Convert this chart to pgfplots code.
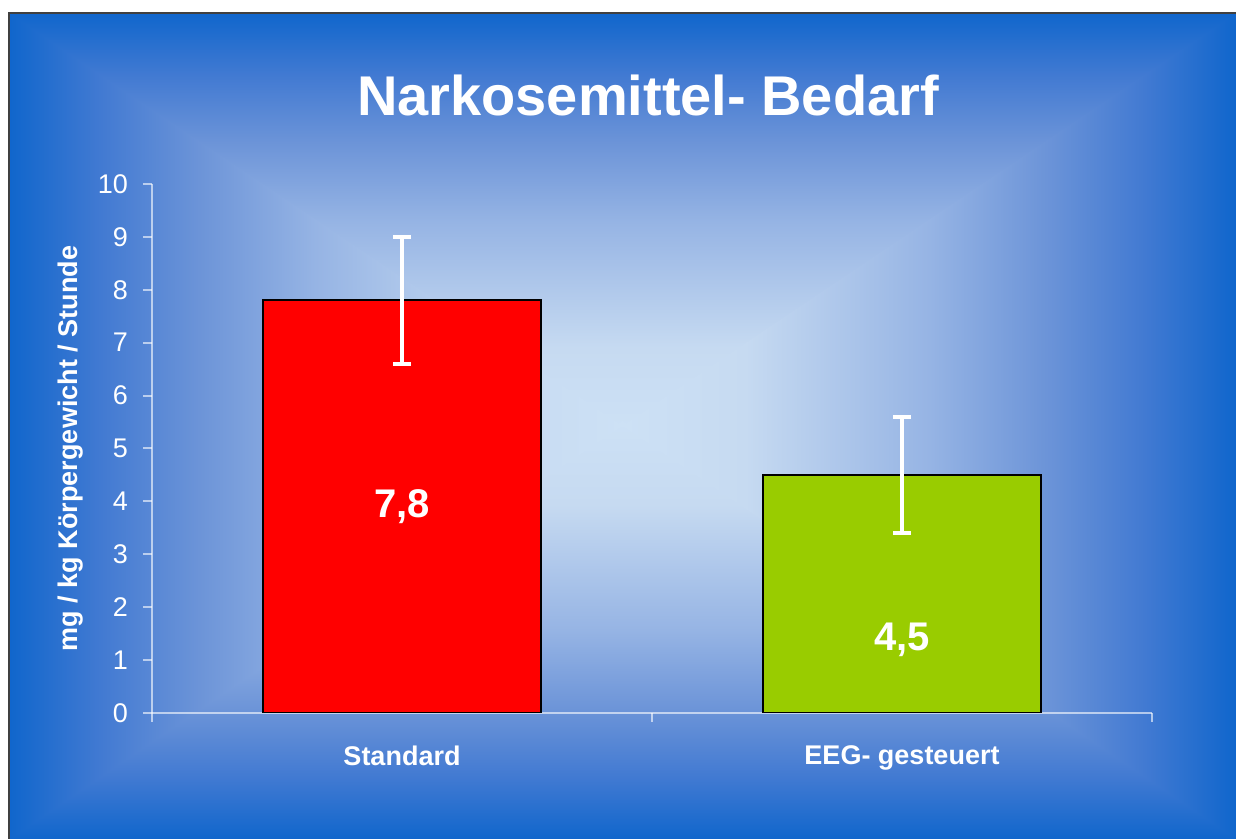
\documentclass[border=0pt]{standalone}
\usepackage{pgfplots}
\pgfplotsset{compat=1.18}
\usepackage{fontspec}
\setmainfont{Liberation Sans}
\definecolor{cE}{RGB}{16,102,204}
\definecolor{c15}{RGB}{66,122,210}
\definecolor{c31}{RGB}{108,148,216}
\definecolor{c50}{RGB}{150,180,228}
\definecolor{c80}{RGB}{198,218,241}
\definecolor{cC}{RGB}{205,225,245}
\definecolor{barred}{RGB}{255,0,0}
\definecolor{bargreen}{RGB}{153,204,0}
\pgfdeclareverticalshading{bgup}{100bp}{color(0bp)=(cC); color(25bp)=(cC); color(35bp)=(c80); color(50bp)=(c50); color(59.5bp)=(c31); color(67.5bp)=(c15); color(75bp)=(cE); color(100bp)=(cE)}
\begin{document}
\begin{tikzpicture}
\useasboundingbox (0,0) rectangle (618pt,419.5pt);
\fill[white] (0,0) rectangle (618pt,419.5pt);
\coordinate (C) at (311.25pt,206.5pt);
\shade[shading=bgup] (4.5pt,413pt) -- (618pt,413pt) -- (618pt,410.5pt) -- (311.25pt,204pt) -- (4.5pt,410.5pt) -- cycle;
\shade[shading=bgup, shading angle=180] (4.5pt,0pt) -- (618pt,0pt) -- (618pt,2.5pt) -- (311.25pt,209pt) -- (4.5pt,2.5pt) -- cycle;
\shade[shading=bgup, shading angle=90] (4.5pt,0pt) -- (4.5pt,413pt) -- (C) -- cycle;
\shade[shading=bgup, shading angle=-90] (618pt,0pt) -- (618pt,413pt) -- (C) -- cycle;
\draw[line width=0.8pt, black!75] (4.5pt,0pt) -- (4.5pt,413pt) -- (618pt,413pt);
\begin{axis}[
  at={(76pt,63pt)}, anchor=south west,
  width=500pt, height=264.5pt, scale only axis,
  xmin=-0.5, xmax=1.5, ymin=0, ymax=10,
  axis x line*=bottom, axis y line*=left,
  axis line style={white, opacity=0.6, line width=1pt},
  xtick={-0.5,0.5,1.5}, xticklabels={},
  extra x ticks={0,1}, extra x tick labels={Standard,EEG- gesteuert},
  extra x tick style={major tick length=0pt, xticklabel style={yshift=-13pt}},
  ytick={0,1,...,10},
  tick align=outside,
  major tick length=4.5pt,
  every tick/.style={white, opacity=0.6, line width=1pt},
  /pgf/number format/assume math mode=true,
  yticklabel style={white, font=\fontsize{13.5}{16}\selectfont, xshift=-4pt},
  xticklabel style={white, font=\bfseries\fontsize{13.5}{16}\selectfont},
  title={Narkosemittel- Bedarf},
  title style={at={(axis description cs:0.496,1.106)}, anchor=base, white, font=\bfseries\fontsize{28}{34}\selectfont},
  ylabel={mg / kg Körpergewicht / Stunde},
  every axis y label/.style={at={(axis description cs:-0.081,0.5)}, rotate=90, anchor=center, white, font=\bfseries\fontsize{13.5}{16}\selectfont},
]
\addplot[ybar, bar width=139pt, bar shift=0pt, fill=barred, draw=black, line width=1pt,
  error bars/.cd, y dir=both, y explicit,
  error bar style={white, line width=2pt},
  error mark options={white, rotate=90, mark size=4.5pt, line width=2pt}]
  coordinates {(0,7.8) +- (0,1.2)};
\addplot[ybar, bar width=139pt, bar shift=0pt, fill=bargreen, draw=black, line width=1pt,
  error bars/.cd, y dir=both, y explicit,
  error bar style={white, line width=2pt},
  error mark options={white, rotate=90, mark size=4.5pt, line width=2pt}]
  coordinates {(1,4.5) +- (0,1.1)};
\node[white, font=\bfseries\fontsize{20}{24}\selectfont] at (axis cs:0,3.9) {7,8};
\node[white, font=\bfseries\fontsize{20}{24}\selectfont] at (axis cs:1,1.38) {4,5};
\end{axis}
\end{tikzpicture}
\end{document}
